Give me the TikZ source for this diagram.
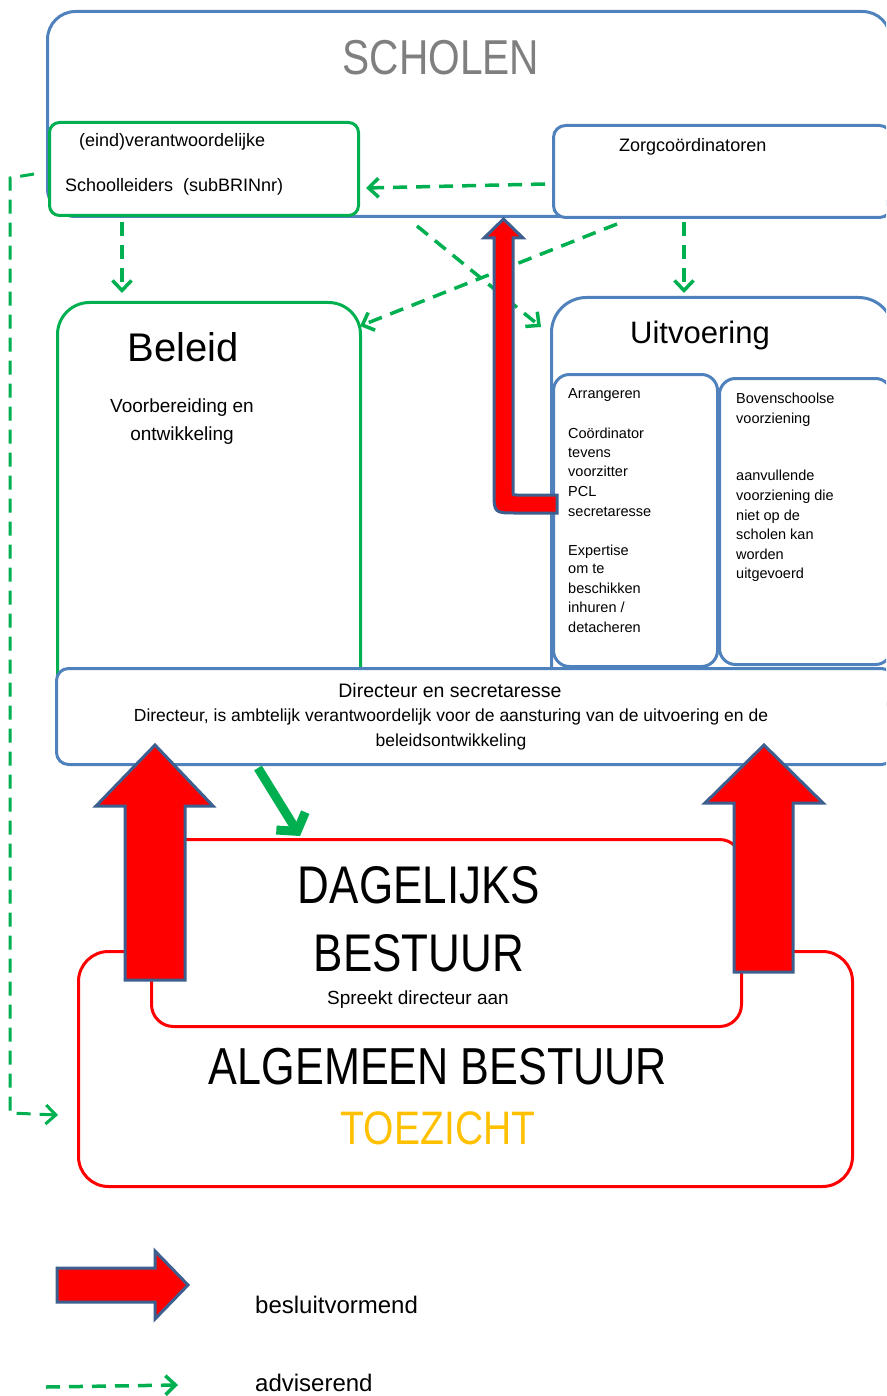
\documentclass[tikz,border=0pt]{standalone}
\usepackage{fontspec}
\setmainfont{Liberation Sans}
\newfontfamily\narrowf[FakeStretch=0.83]{Liberation Sans}
\usetikzlibrary{arrows.meta,calc}
\definecolor{bblue}{HTML}{4F81BD}
\definecolor{ggreen}{HTML}{00B050}
\definecolor{rred}{HTML}{FF0000}
\definecolor{outl}{HTML}{3D5F8F}
\definecolor{ggray}{HTML}{7F7F7F}
\definecolor{gold}{HTML}{FFC000}
\newcommand{\fs}[1]{\fontsize{#1pt}{#1pt}\selectfont}
\begin{document}
\begin{tikzpicture}[x=1pt,y=-1pt,
  bx/.style={draw, line width=3pt, fill=white, inner sep=0pt, anchor=north west},
  bluebox/.style={bx, draw=bblue},
  greenbox/.style={bx, draw=ggreen},
  redbox/.style={bx, draw=rred},
  txt/.style={inner sep=0pt},
  adv/.style={draw=ggreen, line width=3.5pt, dash pattern=on 14pt off 9pt, -{Straight Barb[length=10pt,width=19pt]}},
  bigarrow/.style={fill=rred, draw=outl, line width=3pt, line join=miter}
]
\useasboundingbox (0,0) rectangle (886,1396);
\clip (0,0) rectangle (886,1396);

% boxes
\node[bluebox, rounded corners=28pt, minimum width=843pt, minimum height=205pt] (scholen) at (46,10) {};
\node[greenbox, rounded corners=10pt, minimum width=309pt, minimum height=93pt] (schl) at (48,121) {};
\node[bluebox, rounded corners=12pt, minimum width=338pt, minimum height=92pt] (zorg) at (552,124) {};
\node[greenbox, rounded corners=32pt, minimum width=303pt, minimum height=420pt] (beleid) at (56,301) {};
\node[bluebox, rounded corners=35pt, minimum width=342pt, minimum height=420pt] (uitv) at (550,296) {};
\node[bluebox, rounded corners=16pt, minimum width=164pt, minimum height=292pt] (arr) at (552,373) {};
\node[bluebox, rounded corners=16pt, minimum width=172pt, minimum height=286pt] (bov) at (718,377) {};
\node[bluebox, rounded corners=12pt, minimum width=837pt, minimum height=96pt] (dir) at (55,667) {};
\node[redbox, rounded corners=30pt, minimum width=774pt, minimum height=235pt] (ab) at (77,950) {};
\node[redbox, rounded corners=22pt, minimum width=590pt, minimum height=187pt] (db) at (150,838) {};

% texts
\node[txt, text=ggray, font=\narrowf\fs{49}] (tScholen) at (441,58) {SCHOLEN};
\node[txt, anchor=west, font=\fs{18}] (tEind) at (79,142) {(eind)verantwoordelijke};
\node[txt, anchor=west, font=\fs{18}] (tSchl) at (65,187) {Schoolleiders\ \ (subBRINnr)};
\node[txt, anchor=west, font=\fs{18}] (tZorg) at (619,147) {Zorgcoördinatoren};
\node[txt, font=\fs{40}] (tBeleid) at (183,347) {Beleid};
\node[txt, font=\fs{19}] (tVoor) at (182,408) {Voorbereiding en};
\node[txt, font=\fs{19}] (tOntw) at (182,436) {ontwikkeling};
\node[txt, font=\fs{31}] (tUitv) at (700,335) {Uitvoering};
\foreach \t/\y [count=\i] in {Arrangeren/393, Coördinator/433, tevens/452, voorzitter/471, PCL/491, secretaresse/511, Expertise/550, {om te}/568, beschikken/588, {inhuren /}/607, detacheren/627}
  \node[txt, anchor=base west, font=\fs{14.5}] (tArr\i) at (568,\y+5) {\t};
\foreach \t/\y [count=\i] in {Bovenschoolse/398, voorziening/418, aanvullende/475, {voorziening die}/495, {niet op de}/515, {scholen kan}/534, worden/554, uitgevoerd/573}
  \node[txt, anchor=base west, font=\fs{14.5}] (tBov\i) at (736,\y+5) {\t};
\node[txt, font=\fs{19.5}] (tDir1) at (450,691) {Directeur en secretaresse};
\node[txt, font=\fs{17.5}] (tDir2) at (451,717) {Directeur, is ambtelijk verantwoordelijk voor de aansturing van de uitvoering en de};
\node[txt, font=\fs{17.5}] (tDir3) at (451,742) {beleidsontwikkeling};
\node[txt, font=\narrowf\fs{53}] (tDag) at (419,885) {DAGELIJKS};
\node[txt, font=\narrowf\fs{53}] (tBest) at (419,953) {BESTUUR};
\node[txt, font=\fs{19}] (tSpr) at (418,1000) {Spreekt directeur aan};
\node[txt, font=\narrowf\fs{52}] (tAB) at (438,1067) {ALGEMEEN BESTUUR};
\node[txt, text=gold, font=\narrowf\fs{47}] (tToe) at (438,1128) {TOEZICHT};
\node[txt, anchor=west, font=\fs{24}] (tBesl) at (255,1305) {besluitvormend};
\node[txt, anchor=west, font=\fs{24}] (tAdv) at (255,1383) {adviserend};

% advisory (dashed) connectors
\coordinate (z1) at (545,184);
\coordinate (s1) at (366,188);
\coordinate (s2) at (122,222);
\coordinate (b1) at (122,293);
\coordinate (s3) at (417,226);
\coordinate (u1) at (541,327);
\coordinate (z2) at (617,224);
\coordinate (b2) at (360,326);
\coordinate (z3) at (684,222);
\coordinate (u2) at (684,293);
\coordinate (k0) at (34,174);
\coordinate (k1) at (10,178);
\coordinate (k2) at (10,1113);
\coordinate (k3) at (58,1115);
\draw[adv] (z1) -- (s1);
\draw[adv] (s2) -- (b1);
\draw[adv] (s3) -- (u1);
\draw[adv] (z2) -- (b2);
\draw[adv] (z3) -- (u2);
\draw[adv, line width=3pt] (k0) -- (k1) -- (k2) -- (k3);

% bent red arrow from Arrangeren to Scholen
\path[bigarrow] (557,495) -- (517,495) .. controls (513,495) .. (513,491) -- (513,238) -- (523,238) -- (503.5,219) -- (484,238) -- (494,238) -- (494,491) .. controls (494,513) .. (516,513) -- (557,513) -- cycle;

% big red arrows
\path[bigarrow] (125,980) -- (125,806) -- (96,806) -- (155,745) -- (213,806) -- (185,806) -- (185,980) -- cycle;
\path[bigarrow] (734,972) -- (734,803) -- (705,803) -- (764,745) -- (823,803) -- (793,803) -- (793,972) -- cycle;

% green solid arrow
\coordinate (g1) at (258,768);
\coordinate (g2) at (300,836);
\draw[ggreen, line width=9pt, -{Straight Barb[length=12pt,width=34pt]}] (g1) -- (g2);

% legend
\path[bigarrow] (57,1268) -- (155,1268) -- (155,1251) -- (188,1285) -- (155,1319) -- (155,1302) -- (57,1302) -- cycle;
\coordinate (l1) at (46,1387);
\coordinate (l2) at (178,1385);
\draw[adv] (l1) -- (l2);
\end{tikzpicture}
\end{document}
